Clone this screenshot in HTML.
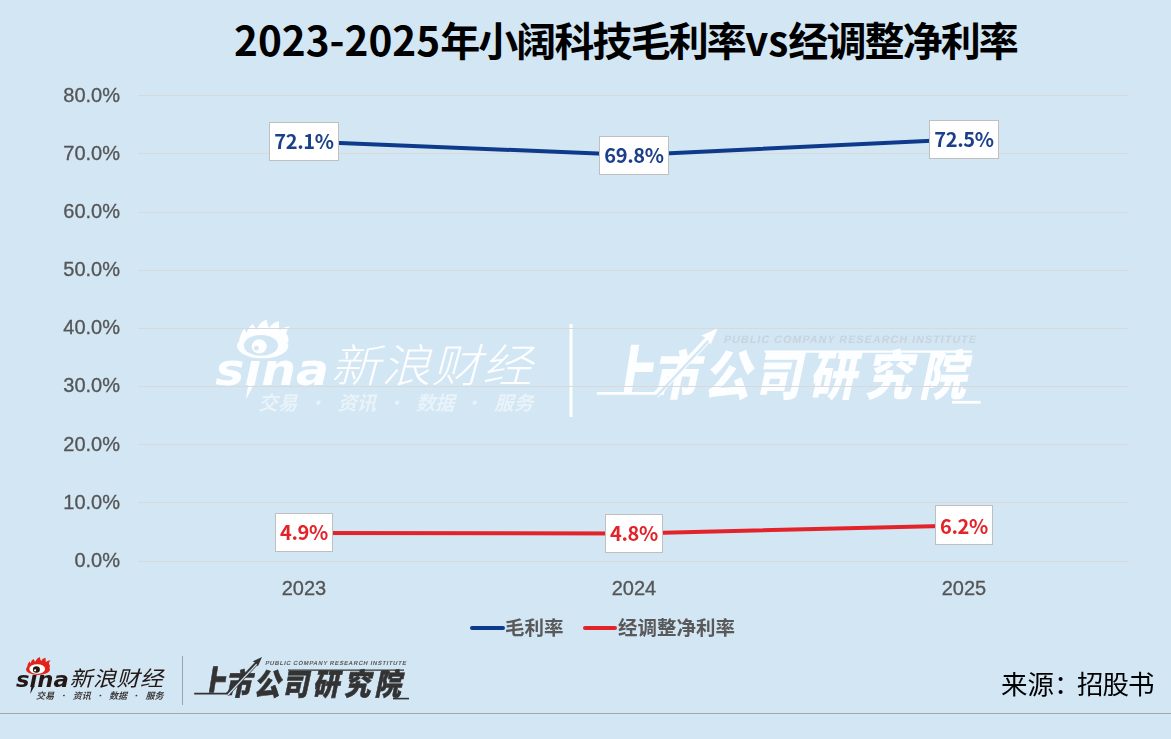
<!DOCTYPE html>
<html lang="zh-CN">
<head>
<meta charset="utf-8">
<title>2023-2025年小阔科技毛利率vs经调整净利率</title>
<style>
html,body{margin:0;padding:0;}
body{width:1171px;height:739px;overflow:hidden;background:#D2E6F4;position:relative;}
svg{position:absolute;left:0;top:0;display:block;}
.cjk{font-family:"Liberation Sans","Noto Sans CJK SC",sans-serif;}
.ax{font-family:"Liberation Sans","Noto Sans CJK SC",sans-serif;font-size:20px;fill:#555;stroke:#555;stroke-width:0.3px;}
.dl{font-family:"Noto Sans CJK SC",sans-serif;font-size:20px;font-weight:700;letter-spacing:-0.35px;}
</style>
</head>
<body>
<svg width="1171" height="739" viewBox="0 0 1171 739">
  <defs><clipPath id="clipShang"><rect x="150" y="600" width="150" height="92.8"/></clipPath></defs>
  <!-- title -->
  <text id="title" y="56" style="font-family:'Noto Sans CJK SC',sans-serif;font-weight:700;fill:#000"><tspan x="234" font-size="40.5">2023-2025</tspan><tspan font-size="40" letter-spacing="-1.9">年小阔科技毛利率</tspan><tspan font-size="40.5">vs</tspan><tspan font-size="40" letter-spacing="-1.9">经调整净利率</tspan></text>

  <!-- watermark -->
  <g id="wm" opacity="0.95">
    <g transform="matrix(2.155 0 0 2.155 180.8 -1096.3)">
      <text x="16" y="687.2" textLength="52.8" lengthAdjust="spacingAndGlyphs" style="font-family:'DejaVu Sans',sans-serif;font-size:20.8px;font-weight:700;font-style:italic;fill:#fff">sina</text>
      <path d="M31.5 686 L34.6 686 L30.2 694 Z" fill="#fff"/>
      <path d="M27 668 Q27.3 663.5 29.6 661.2 Q30 662.5 30.6 663.3 Q31.3 660.2 33.5 659.1 Q34.4 660.6 35.2 661.7 Q36.6 658 39.8 657 Q40.2 659.5 41 661 Q42.6 658.3 45.6 657.8 Q45.5 660.3 45.9 662 Q47.8 660.3 50.7 660.2 Q49 661.8 48.9 663.5 Q50.2 665 49.9 667.5 Z" fill="#fff"/>
      <ellipse cx="38" cy="669.3" rx="11.9" ry="5.7" fill="#fff"/>
      <ellipse cx="37.2" cy="669" rx="7.9" ry="4.8" fill="#D2E6F4"/>
      <ellipse cx="36.4" cy="669.5" rx="3.5" ry="3.3" fill="#fff"/>
      <circle cx="35.1" cy="670.3" r="1.1" fill="#D2E6F4"/>
      <g transform="translate(69.5,686) skewX(-15) scale(1.1,1)">
        <text x="0" y="0" textLength="85" lengthAdjust="spacing" style="font-family:'Noto Sans CJK SC',sans-serif;font-size:21px;font-weight:300;fill:#fff">新浪财经</text>
      </g>
      <g transform="translate(-1,699) skewX(-15)" opacity="0.55" style="font-family:'Noto Sans CJK SC',sans-serif;font-size:9px;font-weight:700;fill:#fff">
        <text x="37" y="0">交易</text><text x="59.5" y="0" font-weight="400">·</text>
        <text x="73.7" y="0">资讯</text><text x="96" y="0" font-weight="400">·</text>
        <text x="110" y="0">数据</text><text x="132" y="0" font-weight="400">·</text>
        <text x="146.5" y="0">服务</text>
      </g>
    </g>
    <line x1="571" x2="571" y1="324" y2="417" stroke="#fff" stroke-width="3"/>
    <g transform="matrix(1.787 0 0 1.787 249.8 -846.1)">
      <g transform="translate(265,665.3) skewX(-12)">
        <text x="0" y="0" textLength="141" lengthAdjust="spacing" style="font-family:'Liberation Sans',sans-serif;font-size:6px;font-weight:700;fill:#C7D3DD">PUBLIC COMPANY RESEARCH INSTITUTE</text>
      </g>
      <line x1="288" x2="404" y1="670.2" y2="670.2" stroke="#fff" stroke-width="1.3"/>
      <g style="font-family:'Noto Sans CJK SC',sans-serif;font-size:30px;font-weight:900;fill:#fff"><g clip-path="url(#clipShang)"><text transform="translate(197.3,697) skewX(-9) scale(0.8,1)" x="0" y="0" font-size="36">上</text></g><text transform="translate(224.7,694.5) skewX(-12) scale(0.88,1)" x="0" y="0">市</text><text transform="translate(253.7,694.5) skewX(-12) scale(0.88,1)" x="0" y="0">公</text><text transform="translate(282,694.5) skewX(-12) scale(0.88,1)" x="0" y="0">司</text><text transform="translate(312.6,694.5) skewX(-12) scale(0.88,1)" x="0" y="0">研</text><text transform="translate(344,694.5) skewX(-12) scale(0.88,1)" x="0" y="0">究</text><text transform="translate(374.4,694.5) skewX(-12) scale(0.88,1)" x="0" y="0">院</text></g>
      <path d="M194.2 693.6 L227.5 693.6" fill="none" stroke="#fff" stroke-width="1.6"/>
      <path d="M227.2 694.6 L257.2 662.6" fill="none" stroke="#fff" stroke-width="3.8"/>
      <path d="M227.6 695.2 L257.2 663.6" fill="none" stroke="#D2E6F4" stroke-width="1.3"/>
      <path d="M262 657 L252.6 661.4 L255.8 662.6 L257.8 666.4 Z" fill="#fff"/>
      <line x1="393" x2="409" y1="698.6" y2="698.6" stroke="#fff" stroke-width="1.6"/>
    </g>
  </g>

  <!-- gridlines -->
  <g stroke="#D9D9D9" stroke-width="1" shape-rendering="crispEdges">
    <line x1="138" x2="1129" y1="95.5" y2="95.5"/>
    <line x1="138" x2="1129" y1="153.5" y2="153.5"/>
    <line x1="138" x2="1129" y1="212.5" y2="212.5"/>
    <line x1="138" x2="1129" y1="270.5" y2="270.5"/>
    <line x1="138" x2="1129" y1="328.5" y2="328.5"/>
    <line x1="138" x2="1129" y1="386.5" y2="386.5"/>
    <line x1="138" x2="1129" y1="444.5" y2="444.5"/>
    <line x1="138" x2="1129" y1="502.5" y2="502.5"/>
    <line x1="138" x2="1129" y1="561.5" y2="561.5"/>
  </g>

  <!-- y axis labels -->
  <g class="ax" text-anchor="end">
    <text x="120" y="102">80.0%</text>
    <text x="120" y="160">70.0%</text>
    <text x="120" y="218">60.0%</text>
    <text x="120" y="276">50.0%</text>
    <text x="120" y="334">40.0%</text>
    <text x="120" y="392">30.0%</text>
    <text x="120" y="451">20.0%</text>
    <text x="120" y="509">10.0%</text>
    <text x="120" y="567">0.0%</text>
  </g>

  <!-- x axis labels -->
  <g class="ax" text-anchor="middle">
    <text x="304" y="595">2023</text>
    <text x="634" y="595">2024</text>
    <text x="964" y="595">2025</text>
  </g>

  <!-- series lines -->
  <polyline points="303.5,141.5 633.5,154.9 963.5,139.2" fill="none" stroke="#0E3A8C" stroke-width="4" stroke-linejoin="round"/>
  <polyline points="303.5,533 633.5,533.5 963.5,525.4" fill="none" stroke="#E3232A" stroke-width="4" stroke-linejoin="round"/>

  <!-- data labels -->
  <g fill="#fff" stroke="#BFBFBF" stroke-width="1">
    <rect x="269.5" y="122.5" width="69" height="38"/>
    <rect x="599.5" y="136.5" width="69" height="38"/>
    <rect x="929.5" y="120.5" width="69" height="38"/>
    <rect x="275.5" y="513.5" width="57" height="38"/>
    <rect x="605.5" y="514.5" width="57" height="38"/>
    <rect x="935.5" y="505.5" width="57" height="39"/>
  </g>
  <g class="dl" text-anchor="middle" fill="#1B3F8B">
    <text x="304" y="149">72.1%</text>
    <text x="634" y="163">69.8%</text>
    <text x="964" y="147">72.5%</text>
  </g>
  <g class="dl" text-anchor="middle" fill="#E3232A">
    <text x="304" y="540">4.9%</text>
    <text x="634" y="541">4.8%</text>
    <text x="964" y="533.5">6.2%</text>
  </g>

  <!-- legend -->
  <line x1="472" x2="503" y1="628" y2="628" stroke="#0E3A8C" stroke-width="4" stroke-linecap="round"/>
  <text x="505" y="635" style="font-family:'Noto Sans CJK SC',sans-serif;font-size:19.5px;font-weight:700;fill:#595959">毛利率</text>
  <line x1="585" x2="615" y1="628" y2="628" stroke="#E3232A" stroke-width="4" stroke-linecap="round"/>
  <text x="618" y="635" style="font-family:'Noto Sans CJK SC',sans-serif;font-size:19.5px;font-weight:700;fill:#595959">经调整净利率</text>

  <!-- source -->
  <text y="694" style="font-family:'Noto Sans CJK SC',sans-serif;font-size:26.5px;fill:#000"><tspan x="1001">来源：</tspan><tspan x="1077" letter-spacing="-1">招股书</tspan></text>

  <!-- bottom logo: sina -->
  <g id="sinaLogo">
    <text x="16" y="687.2" textLength="52.8" lengthAdjust="spacingAndGlyphs" style="font-family:'DejaVu Sans',sans-serif;font-size:20.8px;font-weight:700;font-style:italic;fill:#231815">sina</text>
    <path d="M31.5 686 L34.6 686 L30.2 694 Z" fill="#231815"/>
    <path d="M27 668 Q27.3 663.5 29.6 661.2 Q30 662.5 30.6 663.3 Q31.3 660.2 33.5 659.1 Q34.4 660.6 35.2 661.7 Q36.6 658 39.8 657 Q40.2 659.5 41 661 Q42.6 658.3 45.6 657.8 Q45.5 660.3 45.9 662 Q47.8 660.3 50.7 660.2 Q49 661.8 48.9 663.5 Q50.2 665 49.9 667.5 Z" fill="#E2231A"/>
    <ellipse cx="38" cy="669.3" rx="11.9" ry="5.7" fill="#E2231A"/>
    <ellipse cx="37.2" cy="669" rx="7.9" ry="4.8" fill="#fff"/>
    <ellipse cx="36.4" cy="669.5" rx="3.5" ry="3.3" fill="#231815"/>
    <circle cx="35.1" cy="670.3" r="1.1" fill="#fff"/>
    <g transform="translate(69.5,686) skewX(-15) scale(1.1,1)">
      <text x="0" y="0" textLength="85" lengthAdjust="spacing" style="font-family:'Noto Sans CJK SC',sans-serif;font-size:21px;font-weight:400;fill:#231815">新浪财经</text>
    </g>
    <g transform="translate(-1,699) skewX(-15)" style="font-family:'Noto Sans CJK SC',sans-serif;font-size:9px;font-weight:700;fill:#3E3A39">
      <text x="37" y="0">交易</text><text x="59.5" y="0" font-weight="400">·</text>
      <text x="73.7" y="0">资讯</text><text x="96" y="0" font-weight="400">·</text>
      <text x="110" y="0">数据</text><text x="132" y="0" font-weight="400">·</text>
      <text x="146.5" y="0">服务</text>
    </g>
  </g>
  <line x1="182.5" x2="182.5" y1="656" y2="705" stroke="#98A6B2" stroke-width="1"/>

  <!-- bottom logo: 上市公司研究院 -->
  <g id="ssLogo">
    <g transform="translate(265,665.3) skewX(-12)">
      <text x="0" y="0" textLength="141" lengthAdjust="spacing" style="font-family:'Liberation Sans',sans-serif;font-size:6px;font-weight:700;fill:#5A5A5A">PUBLIC COMPANY RESEARCH INSTITUTE</text>
    </g>
    <line x1="288" x2="404" y1="670.2" y2="670.2" stroke="#333" stroke-width="1.3"/>
    <g style="font-family:'Noto Sans CJK SC',sans-serif;font-size:30px;font-weight:900;fill:#333;stroke:#333;stroke-width:0.6px"><g clip-path="url(#clipShang)"><text transform="translate(197.3,697) skewX(-9) scale(0.8,1)" x="0" y="0" font-size="36">上</text></g><text transform="translate(224.7,694.5) skewX(-12) scale(0.88,1)" x="0" y="0">市</text><text transform="translate(253.7,694.5) skewX(-12) scale(0.88,1)" x="0" y="0">公</text><text transform="translate(282,694.5) skewX(-12) scale(0.88,1)" x="0" y="0">司</text><text transform="translate(312.6,694.5) skewX(-12) scale(0.88,1)" x="0" y="0">研</text><text transform="translate(344,694.5) skewX(-12) scale(0.88,1)" x="0" y="0">究</text><text transform="translate(374.4,694.5) skewX(-12) scale(0.88,1)" x="0" y="0">院</text></g>
    <path d="M194.2 693.6 L227.5 693.6" fill="none" stroke="#333" stroke-width="1.6"/>
      <path d="M227.2 694.6 L257.2 662.6" fill="none" stroke="#333" stroke-width="3.8"/>
      <path d="M227.6 695.2 L257.2 663.6" fill="none" stroke="#D2E6F4" stroke-width="1.3"/>
    <path d="M262 657 L252.6 661.4 L255.8 662.6 L257.8 666.4 Z" fill="#333"/>
    <line x1="393" x2="409" y1="698.6" y2="698.6" stroke="#333" stroke-width="1.6"/>
  </g>

  <!-- bottom rule -->
  <line x1="0" x2="1171" y1="713.5" y2="713.5" stroke="#A6A6A6" stroke-width="1" shape-rendering="crispEdges"/>
</svg>
</body>
</html>
